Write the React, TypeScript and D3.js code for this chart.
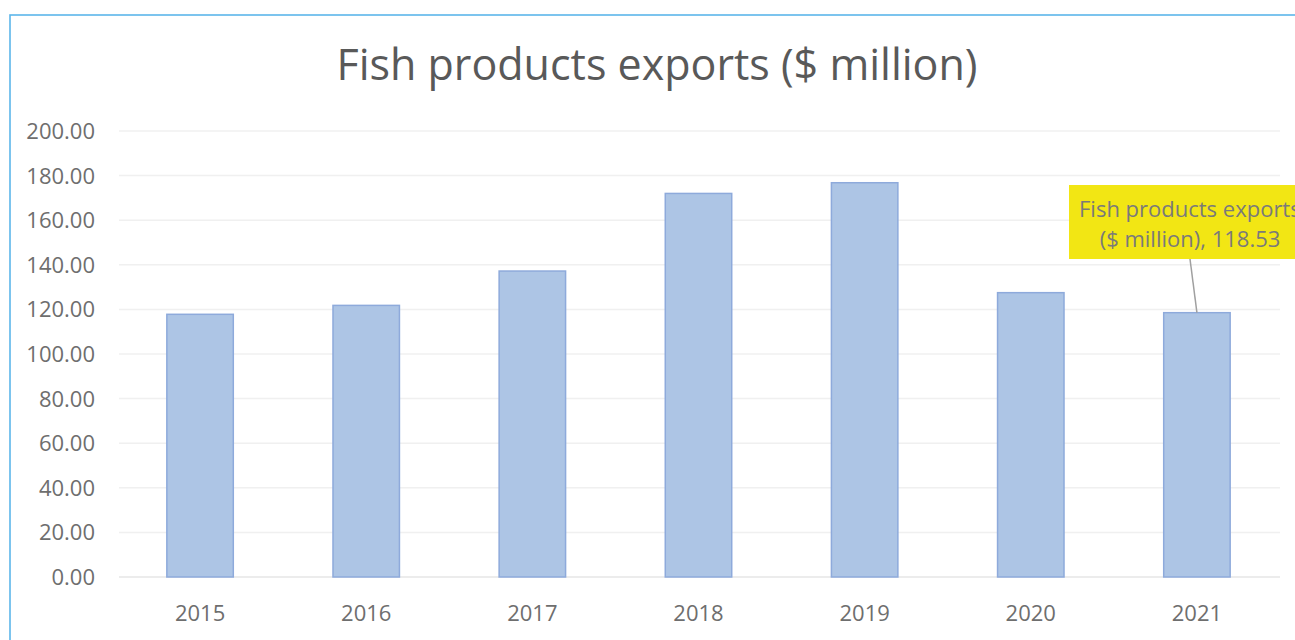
import React from "react";
import * as d3 from "d3";

const years = ["2015", "2016", "2017", "2018", "2019", "2020", "2021"];
const exportsValues = [117.8, 121.8, 137.2, 172.0, 176.8, 127.5, 118.53];
const yTicks = [0, 20, 40, 60, 80, 100, 120, 140, 160, 180, 200];
const chartTitle = "Fish products exports ($ million)";
const calloutLines = ["Fish products exports", "($ million), 118.53"];

const W = 1295;
const H = 640;
const FONT = "'Open Sans', 'Noto Sans', sans-serif";

export default function App() {
  const x = d3.scaleBand<string>().domain(years).range([117, 1280]).paddingInner(0.6).paddingOuter(0.3);
  const y = d3.scaleLinear().domain([0, 200]).range([577, 131]);
  const lastIdx = years.length - 1;
  const lastCx = (x(years[lastIdx]) as number) + x.bandwidth() / 2;
  const lastTop = y(exportsValues[lastIdx]);

  return (
    <svg width={W} height={H} style={{ position: "absolute", left: 0, top: 0, display: "block" }}>
      <rect x={0} y={0} width={W} height={H} fill="#ffffff" />
      <rect x={10} y={15} width={W + 10} height={H + 10} fill="#ffffff" stroke="#5cb6ea" strokeWidth={1.6} />
      <text x={657} y={80} textAnchor="middle" fontFamily={FONT} fontSize={43} fill="#595959">
        {chartTitle}
      </text>
      {yTicks.map((t) => (
        <g key={t}>
          <line x1={119} x2={1280} y1={y(t)} y2={y(t)} stroke={t === 0 ? "#e6e6e6" : "#f0f0f0"} strokeWidth={1.5} />
          <text x={95} y={y(t) + 8} textAnchor="end" fontFamily={FONT} fontSize={22} fill="#6e6e6e">
            {t.toFixed(2)}
          </text>
        </g>
      ))}
      {years.map((yr, i) => {
        const bx = x(yr) as number;
        return (
          <g key={yr}>
            <rect
              x={bx}
              y={y(exportsValues[i])}
              width={x.bandwidth()}
              height={y(0) - y(exportsValues[i])}
              fill="#adc5e5"
              stroke="#8eaadb"
              strokeWidth={1.5}
            />
            <text x={bx + x.bandwidth() / 2} y={621} textAnchor="middle" fontFamily={FONT} fontSize={22} fill="#6e6e6e">
              {yr}
            </text>
          </g>
        );
      })}
      <line x1={1190} y1={259} x2={lastCx} y2={lastTop} stroke="#a0a0a0" strokeWidth={1.5} />
      <rect x={1069} y={185} width={240} height={74} fill="#f2e614" />
      <text x={1079} y={217} textAnchor="start" fontFamily={FONT} fontSize={22} fill="#7a7a7a">
        {calloutLines[0]}
      </text>
      <text x={1190} y={247} textAnchor="middle" fontFamily={FONT} fontSize={22} fill="#7a7a7a">
        {calloutLines[1]}
      </text>
    </svg>
  );
}
